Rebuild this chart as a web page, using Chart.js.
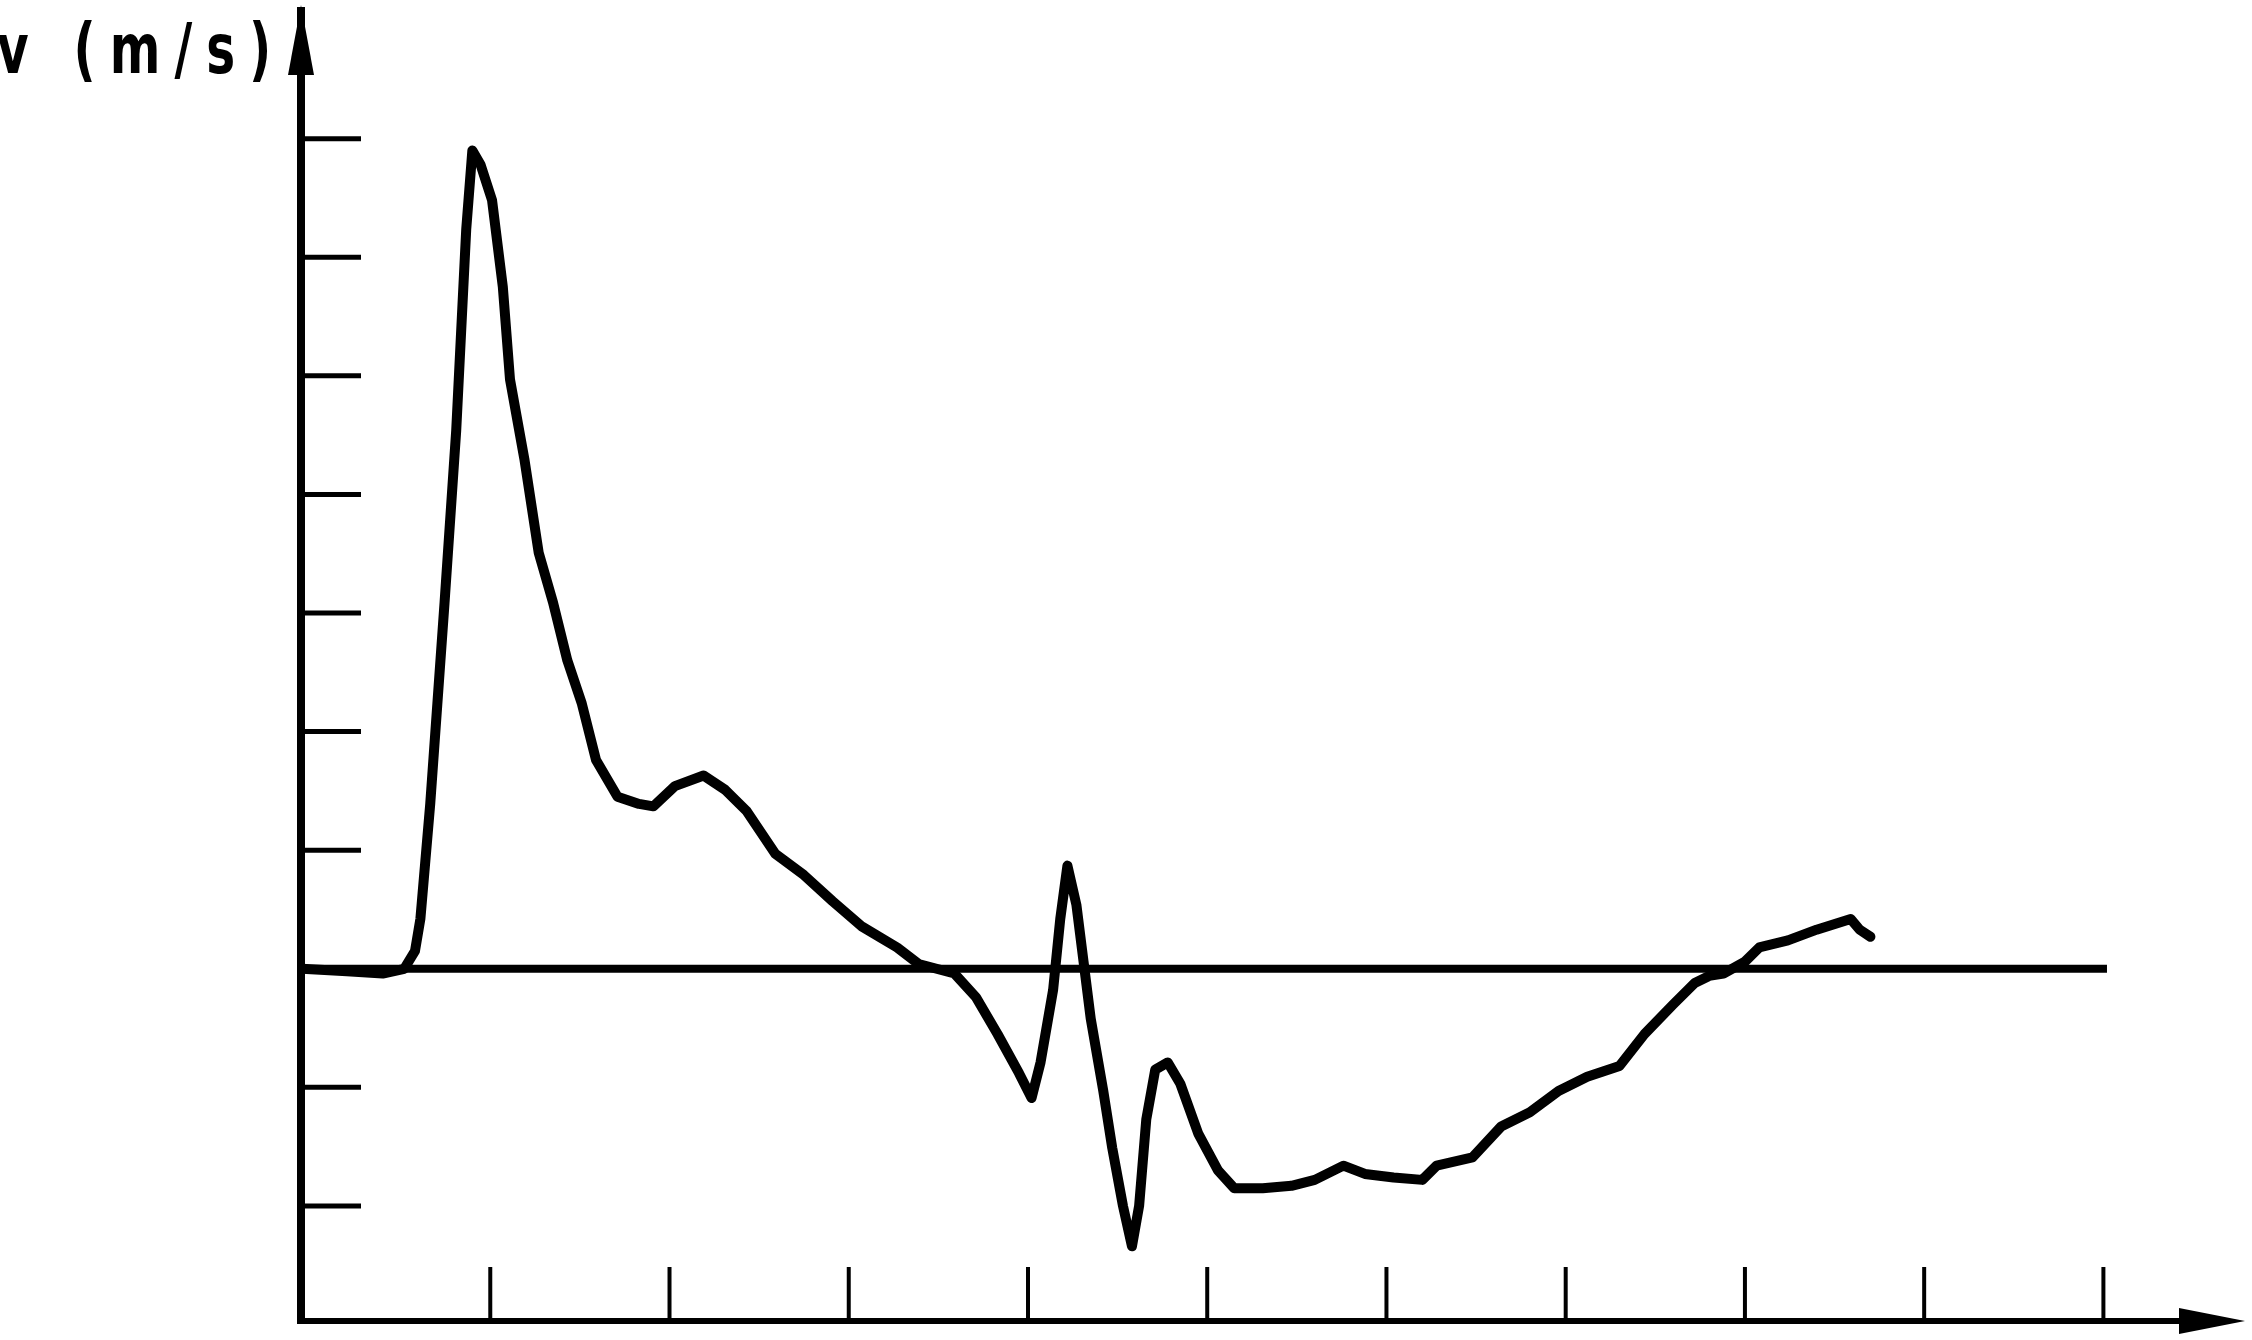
<!DOCTYPE html>
<html>
<head>
<meta charset="utf-8">
<script src="https://cdn.jsdelivr.net/npm/chart.js@4/dist/chart.umd.min.js"></script>
<style>
  html, body { margin: 0; padding: 0; background: #fff; }
  #wrap { width: 2252px; height: 1340px; position: relative; }
</style>
</head>
<body>
<div id="wrap"><canvas id="c" width="2252" height="1340"></canvas></div>
<script>
// ---- data ----
const timeValues = [-0.05, 0.2, 0.4, 0.52, 0.58, 0.61, 0.665, 0.745, 0.81, 0.866, 0.90, 0.946, 1.01, 1.07, 1.11, 1.19, 1.27, 1.35, 1.43, 1.51, 1.59, 1.71, 1.83, 1.91, 2.03, 2.19, 2.31, 2.43, 2.59, 2.75, 2.91, 3.07, 3.27, 3.39, 3.59, 3.71, 3.83, 3.95, 4.02, 4.07, 4.14, 4.18, 4.22, 4.27, 4.31, 4.35, 4.42, 4.47, 4.53, 4.58, 4.62, 4.66, 4.71, 4.78, 4.85, 4.95, 5.06, 5.15, 5.31, 5.47, 5.60, 5.76, 5.88, 6.04, 6.20, 6.28, 6.48, 6.64, 6.80, 6.96, 7.12, 7.30, 7.44, 7.60, 7.72, 7.80, 7.88, 8.00, 8.08, 8.24, 8.40, 8.59, 8.64, 8.70];
const velocityValues = [0.0, -0.02, -0.04, 0.0, 0.15, 0.42, 1.39, 3.09, 4.54, 6.24, 6.90, 6.78, 6.48, 5.75, 4.97, 4.30, 3.51, 3.09, 2.60, 2.24, 1.76, 1.45, 1.39, 1.37, 1.54, 1.63, 1.51, 1.33, 0.97, 0.79, 0.57, 0.36, 0.18, 0.04, -0.04, -0.24, -0.55, -0.88, -1.09, -0.79, -0.18, 0.42, 0.87, 0.54, 0.06, -0.42, -1.03, -1.51, -2.00, -2.34, -2.00, -1.27, -0.85, -0.79, -0.97, -1.39, -1.70, -1.85, -1.85, -1.83, -1.78, -1.66, -1.73, -1.76, -1.78, -1.66, -1.59, -1.33, -1.21, -1.03, -0.91, -0.82, -0.55, -0.30, -0.12, -0.06, -0.04, 0.06, 0.18, 0.24, 0.33, 0.42, 0.33, 0.27];
const zeroLineX = [-0.056, 10.02];
const zeroLineY = [0, 0];
const xTickValues = [1, 2, 3, 4, 5, 6, 7, 8, 9, 10];
const yTickValues = [-2, -1, 1, 2, 3, 4, 5, 6, 7];
const axisLabel = 'v (m/s)';

const X_MIN = -0.056, X_MAX = 10.79, Y_MIN = -2.97, Y_MAX = 8.11;

const curve = timeValues.map((t, i) => ({ x: t, y: velocityValues[i] }));
const zero = zeroLineX.map((t, i) => ({ x: t, y: zeroLineY[i] }));

const axesPlugin = {
  id: 'sketchAxes',
  beforeDatasetsDraw(chart) {
    const ctx = chart.ctx;
    const xs = chart.scales.x, ys = chart.scales.y;
    const left = xs.getPixelForValue(X_MIN);
    const bottom = ys.getPixelForValue(Y_MIN);
    const top = ys.getPixelForValue(Y_MAX);
    const right = xs.getPixelForValue(X_MAX);
    ctx.save();
    ctx.strokeStyle = '#000';
    ctx.fillStyle = '#000';
    // y axis
    ctx.lineWidth = 8;
    ctx.beginPath();
    ctx.moveTo(left, bottom + 2);
    ctx.lineTo(left, top);
    ctx.stroke();
    // x axis
    ctx.lineWidth = 6;
    ctx.beginPath();
    ctx.moveTo(left - 4, bottom);
    ctx.lineTo(right - 40, bottom);
    ctx.stroke();
    // y-axis arrow head
    ctx.beginPath();
    ctx.moveTo(left, top - 2);
    ctx.lineTo(left - 13, top + 68);
    ctx.lineTo(left + 13, top + 68);
    ctx.closePath();
    ctx.fill();
    // x-axis arrow head
    ctx.beginPath();
    ctx.moveTo(right, bottom);
    ctx.lineTo(right - 66, bottom - 13);
    ctx.lineTo(right - 66, bottom + 13);
    ctx.closePath();
    ctx.fill();
    // y ticks (inward)
    ctx.lineWidth = 5;
    yTickValues.forEach(v => {
      const py = ys.getPixelForValue(v);
      ctx.beginPath();
      ctx.moveTo(left, py);
      ctx.lineTo(left + 60, py);
      ctx.stroke();
    });
    // x ticks (upward)
    ctx.lineWidth = 4;
    xTickValues.forEach(v => {
      const px = xs.getPixelForValue(v);
      ctx.beginPath();
      ctx.moveTo(px, bottom);
      ctx.lineTo(px, bottom - 54);
      ctx.stroke();
    });
    // axis label (tall, narrow lettering)
    ctx.save();
    ctx.scale(1, 1.3);
    ctx.font = 'bold 54px "DejaVu Sans Condensed", "DejaVu Sans"';
    ctx.letterSpacing = '14px';
    ctx.textAlign = 'left';
    ctx.textBaseline = 'alphabetic';
    ctx.fillText(axisLabel, -3, 73 / 1.3);
    ctx.restore();
    ctx.restore();
  }
};

new Chart(document.getElementById('c'), {
  type: 'line',
  data: {
    datasets: [
      { data: curve, borderColor: '#000', borderWidth: 10, pointRadius: 0, tension: 0, fill: false, borderJoinStyle: 'round', borderCapStyle: 'round' },
      { data: zero, borderColor: '#000', borderWidth: 8, pointRadius: 0, tension: 0, fill: false }
    ]
  },
  options: {
    responsive: false,
    animation: false,
    devicePixelRatio: 1,
    layout: { padding: { left: 301, right: 7, top: 7, bottom: 19 } },
    plugins: { legend: { display: false }, tooltip: { enabled: false } },
    scales: {
      x: { type: 'linear', min: X_MIN, max: X_MAX, display: false },
      y: { type: 'linear', min: Y_MIN, max: Y_MAX, display: false }
    }
  },
  plugins: [axesPlugin]
});
</script>
</body>
</html>
